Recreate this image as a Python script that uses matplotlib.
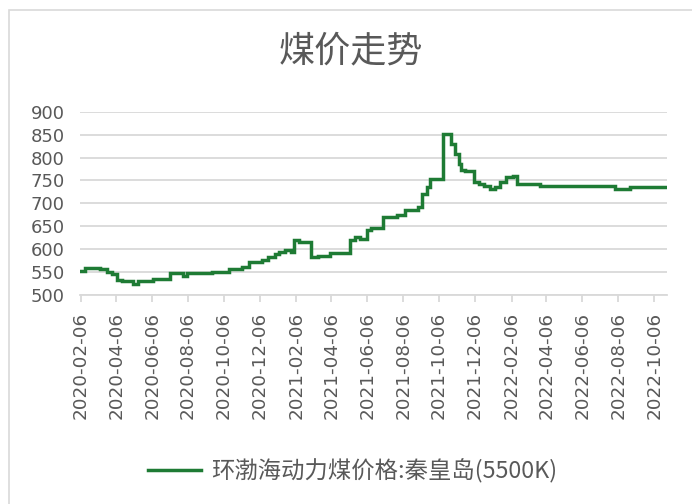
import matplotlib
matplotlib.use("Agg")
import matplotlib.pyplot as plt
import matplotlib.dates as mdates
from matplotlib.patches import Rectangle
import numpy as np

plt.rcParams['font.family'] = ['Noto Sans CJK SC', 'DejaVu Sans']

# Weekly price changes (date the new price takes effect, price in yuan/ton)
change_dates = [
    "2020-02-06", "2020-02-13", "2020-03-10", "2020-03-21", "2020-03-30",
    "2020-04-07", "2020-04-15", "2020-05-05", "2020-05-13", "2020-06-08",
    "2020-07-07", "2020-07-29", "2020-08-04", "2020-09-15", "2020-10-14",
    "2020-11-06", "2020-11-17", "2020-12-10", "2020-12-20", "2021-01-01",
    "2021-01-07", "2021-01-18", "2021-01-27", "2021-02-02", "2021-02-11",
    "2021-03-03", "2021-03-14", "2021-04-04", "2021-05-08", "2021-05-16",
    "2021-05-25", "2021-06-05", "2021-06-13", "2021-07-03", "2021-07-26",
    "2021-08-09", "2021-09-01", "2021-09-07", "2021-09-15", "2021-09-21",
    "2021-10-12", "2021-10-26", "2021-11-02", "2021-11-08", "2021-11-13",
    "2021-11-19", "2021-12-04", "2021-12-12", "2021-12-21", "2022-01-01",
    "2022-01-09", "2022-01-18", "2022-01-27", "2022-02-08", "2022-02-16",
    "2022-03-27", "2022-07-31", "2022-08-26", "2022-10-28",
]
prices = [
    553, 559, 557, 551, 546,
    533, 530, 525, 530, 535,
    548, 541, 547, 551, 556,
    562, 571, 577, 582, 589,
    593, 598, 593, 620, 615,
    582, 586, 591, 620, 626,
    622, 642, 646, 670, 675,
    686, 691, 720, 735, 754,
    851, 830, 807, 785, 773,
    770, 746, 742, 738, 731,
    736, 746, 757, 760, 742,
    737, 731, 736, 736,
]
series_name = "环渤海动力煤价格:秦皇岛(5500K)"
chart_title = "煤价走势"
y_ticks = [500, 550, 600, 650, 700, 750, 800, 850, 900]

text_color = "#595959"
grid_color = "#d9d9d9"
line_color = "#1e7b34"

dates = np.array(change_dates, dtype="datetime64[D]")

fig = plt.figure(figsize=(6.92, 5.04), dpi=100)
ax = fig.add_axes([0.116, 0.4147, 0.848, 0.3637])

ax.plot(dates, prices, drawstyle="steps-post", color=line_color,
        linewidth=2.5, label=series_name, solid_joinstyle="miter")

ax.set_ylim(500, 900)
ax.set_yticks(y_ticks)
ax.set_xlim(np.datetime64("2020-02-05"), np.datetime64("2022-10-28"))

ax.xaxis.set_major_locator(mdates.MonthLocator(bymonth=[2, 4, 6, 8, 10, 12], bymonthday=6))
ax.xaxis.set_major_formatter(mdates.DateFormatter("%Y-%m-%d"))

ax.grid(axis="y", color=grid_color, linewidth=1.3)
ax.set_axisbelow(True)
for side in ("left", "right", "top"):
    ax.spines[side].set_visible(False)
ax.spines["bottom"].set_color(grid_color)
ax.spines["bottom"].set_linewidth(1.3)

ax.tick_params(axis="y", length=0, pad=11, labelsize=13, labelcolor=text_color)
ax.tick_params(axis="x", length=5, width=1.3, color=grid_color, pad=7,
               labelsize=13.2, labelcolor=text_color, labelrotation=90)
for lab in ax.get_xticklabels() + ax.get_yticklabels():
    lab.set_family("DejaVu Sans")

fig.text(0.507, 0.897, chart_title, ha="center", va="center",
         fontsize=26, color=text_color)

leg = fig.legend(loc="center", bbox_to_anchor=(0.509, 0.066), frameon=False,
                 fontsize=16.8, handlelength=2.3, handletextpad=0.4)
for t in leg.get_texts():
    t.set_color(text_color)

# outer chart frame
fig.patches.append(Rectangle((0.013, -0.05), 1.2, 0.05 + 0.981,
                             transform=fig.transFigure, fill=False,
                             edgecolor=grid_color, linewidth=1.2))

fig.savefig("out.png", dpi=100)
